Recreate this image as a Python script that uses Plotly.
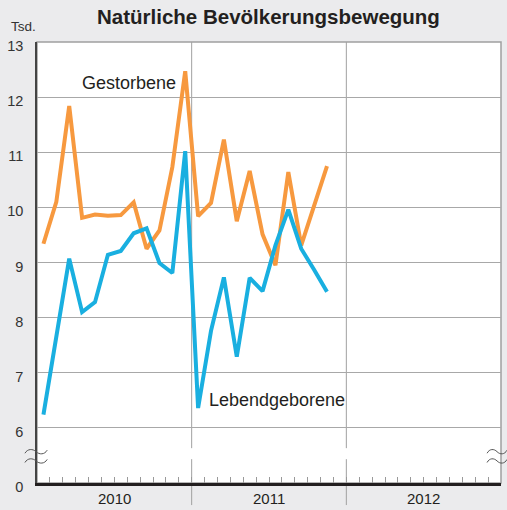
import plotly.graph_objects as go

# ---- data (Tsd.) ----
months = ["2010-01", "2010-02", "2010-03", "2010-04", "2010-05", "2010-06",
          "2010-07", "2010-08", "2010-09", "2010-10", "2010-11", "2010-12",
          "2011-01", "2011-02", "2011-03", "2011-04", "2011-05", "2011-06",
          "2011-07", "2011-08", "2011-09", "2011-10", "2011-11"]
gestorbene = [9.34, 10.10, 11.84, 9.81, 9.87, 9.85, 9.86, 10.09, 9.25, 9.58, 10.73, 12.47,
              9.84, 10.08, 11.23, 9.75, 10.66, 9.51, 8.95, 10.64, 9.31, 10.04, 10.75]
lebendgeborene = [6.24, 7.70, 9.07, 8.10, 8.28, 9.14, 9.21, 9.53, 9.62, 8.99, 8.81, 11.02,
                  6.36, 7.76, 8.73, 7.29, 8.72, 8.48, 9.31, 9.96, 9.25, 8.87, 8.47]
years = ["2010", "2011", "2012"]
y_tick_vals = [5, 6, 7, 8, 9, 10, 11, 12, 13]
y_tick_text = ["0", "6", "7", "8", "9", "10", "11", "12", "13"]

start_year = 2010
x_pos = [(int(m[:4]) - start_year) * 12 + int(m[5:]) - 0.5 for m in months]

FONT = "Liberation Sans, Arial, Helvetica, sans-serif"
ORANGE = "#f7993f"
BLUE = "#19afe0"

fig = go.Figure()
fig.add_trace(go.Scatter(x=x_pos, y=gestorbene, mode="lines", name="Gestorbene",
                         line=dict(color=ORANGE, width=4), hoverinfo="skip"))
fig.add_trace(go.Scatter(x=x_pos, y=lebendgeborene, mode="lines", name="Lebendgeborene",
                         line=dict(color=BLUE, width=4), hoverinfo="skip"))

n_months = 12 * len(years)

fig.update_layout(
    width=507, height=510,
    margin=dict(l=37, r=6, t=42, b=27, autoexpand=False),
    paper_bgcolor="#ebebed",
    plot_bgcolor="white",
    showlegend=False,
    font=dict(family=FONT, color="#231f20"),
    xaxis=dict(range=[0, n_months], tickvals=list(range(0, n_months + 1)),
               ticks="inside", ticklen=6, tickcolor="#999", tickwidth=1,
               showticklabels=False, showgrid=False, zeroline=False, automargin=False,
               showline=True, linecolor="#231f20", linewidth=2.5),
    yaxis=dict(range=[5, 13], tickvals=y_tick_vals, ticktext=y_tick_text,
               showgrid=True, gridcolor="#a8a8a8", gridwidth=1, zeroline=False,
               showline=True, linecolor="#444", linewidth=1.5, ticks="", automargin=False,
               tickfont=dict(size=14.5, color="#333"), ticklabelstandoff=9,
               ticklabelshift=4),
)

shapes = []
# plot border (top/right)
shapes.append(dict(type="rect", xref="paper", yref="paper", x0=0, x1=1, y0=0, y1=1,
                   line=dict(color="#a0a0a0", width=1.5), layer="below"))
# year separators with break gap
for k in range(1, len(years)):
    shapes.append(dict(type="line", xref="x", yref="paper", x0=12 * k, x1=12 * k,
                       y0=0.079, y1=1, line=dict(color="#a0a0a0", width=1), layer="below"))
    shapes.append(dict(type="line", xref="x", yref="paper", x0=12 * k, x1=12 * k,
                       y0=-0.05, y1=0.054, line=dict(color="#a0a0a0", width=1), layer="below"))

# axis break marks (tildes)
def tilde(x0, x1, yc, a=0.007):
    w = x1 - x0
    return (f"M {x0},{yc - a*0.5} C {x0 + w*0.12},{yc + a} {x0 + w*0.35},{yc + a} {x0 + w*0.5},{yc} "
            f"C {x0 + w*0.65},{yc - a} {x0 + w*0.88},{yc - a} {x1},{yc + a*0.5}")

for yc in (0.071, 0.050):
    for (xa, xb) in ((-0.026, 0.022), (0.97, 1.013)):
        shapes.append(dict(type="path", xref="paper", yref="paper", path=tilde(xa, xb, yc),
                           line=dict(color="#555", width=1)))
fig.update_layout(shapes=shapes)

ann = []
ann.append(dict(text="<b>Natürliche Bevölkerungsbewegung</b>", xref="paper", yref="paper",
                x=(268 - 37) / 464, y=1 + 26 / 441, xanchor="center", yanchor="middle",
                showarrow=False, font=dict(size=20.5, color="#231f20")))
ann.append(dict(text="Tsd.", xref="paper", yref="paper", x=-28 / 464, y=1 + 16 / 441,
                xanchor="left", yanchor="middle", showarrow=False,
                font=dict(size=13.5, color="#333")))
for i, yr in enumerate(years):
    ann.append(dict(text=yr, xref="x", yref="paper", x=12 * i + 6, y=-15 / 441,
                    xanchor="center", yanchor="middle", showarrow=False,
                    font=dict(size=15, color="#231f20")))
ann.append(dict(text="Gestorbene", xref="x", yref="y", x=3.3, y=12.26, xanchor="left",
                yanchor="middle", showarrow=False, font=dict(size=18, color="#231f20")))
ann.append(dict(text="Lebendgeborene", xref="x", yref="y", x=13.2, y=6.5, xanchor="left",
                yanchor="middle", showarrow=False, font=dict(size=18, color="#231f20")))
fig.update_layout(annotations=ann)

fig.write_html("out.html", config={"displayModeBar": False},
               post_script="document.body.style.margin='0';document.body.style.padding='0';"
                           "document.body.style.overflow='hidden';")
